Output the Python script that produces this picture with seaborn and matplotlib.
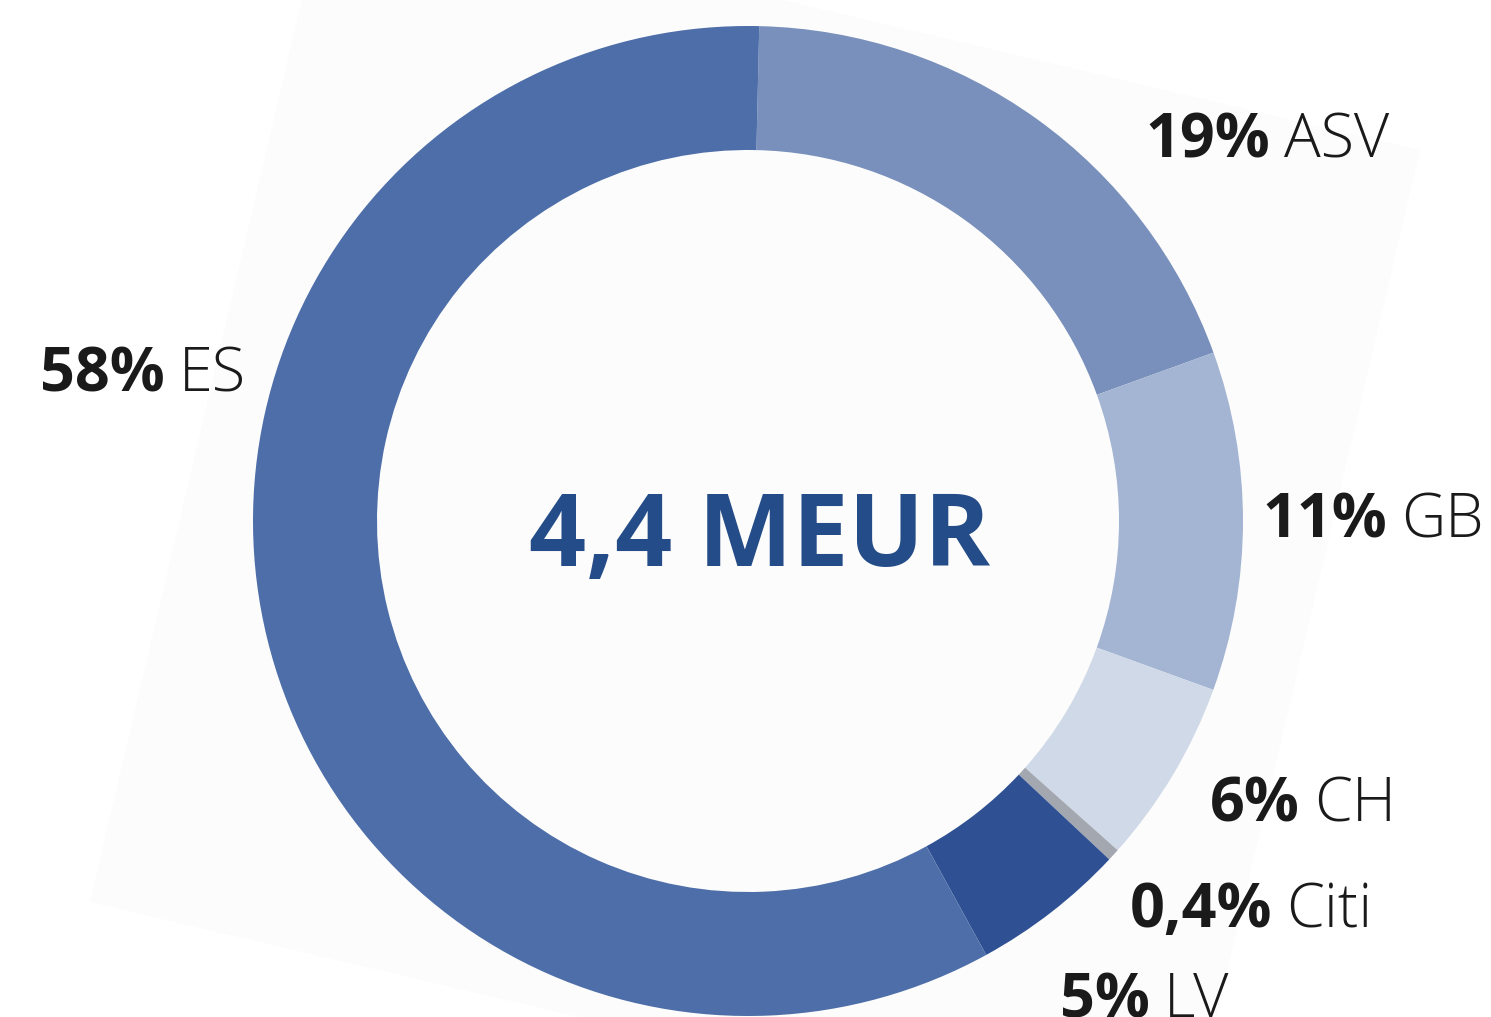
import matplotlib
matplotlib.use('Agg')
import matplotlib.pyplot as plt
from matplotlib.patches import Polygon
import seaborn as sns

W, H = 1491, 1017

# data
labels = ['ASV', 'GB', 'CH', 'Citi', 'LV', 'ES']
shares = [19, 11, 6, 0.4, 5, 58]
share_text = ['19%', '11%', '6%', '0,4%', '5%', '58%']
colors = ['#7890bb', '#a4b5d3', '#d0d9e8', '#a3a7b0', '#2f5193', '#4d6ea8']
total_text = '4,4 MEUR'

# label anchors (left x, baseline y), pixels from the top-left corner
label_pos = [(1145, 158), (1262, 537), (1210, 822), (1130, 927), (1060, 1017), (40, 392)]

sns.set_theme(style='white')
plt.rcParams['font.family'] = ['Open Sans', 'DejaVu Sans']


def py(y):
    # pixel row -> data y (axes runs bottom-up)
    return H - y


fig = plt.figure(figsize=(W / 100, H / 100), dpi=100)
fig.patch.set_facecolor('white')
ax = fig.add_axes([0, 0, 1, 1])

# faint tilted paper behind the chart (scan look)
paper = [(327, -107), (1420, 150), (1183, 1159), (90, 902)]
ax.add_patch(Polygon([(x, py(y)) for x, y in paper], closed=True,
                     facecolor='#fcfcfc', edgecolor='none', zorder=0))

ax.pie(shares, colors=colors, startangle=88.7, counterclock=False,
       radius=495, center=(748, py(521)), frame=True,
       wedgeprops=dict(width=124, linewidth=0))

ax.set_xlim(0, W)
ax.set_ylim(0, H)
ax.axis('off')

# center total
ax.text(760, py(566), total_text, ha='center', va='baseline',
        fontsize=72, fontweight='bold', color='#244c88', zorder=5)

# labels: bold share + light name
renderer = fig.canvas.get_renderer()
for (x, y), pct, name in zip(label_pos, share_text, labels):
    t = ax.text(x, py(y), pct, ha='left', va='baseline', fontsize=44,
                fontweight='bold', color='#1a1a1a', zorder=5)
    bb = t.get_window_extent(renderer=renderer)
    ax.text(bb.x1 + 14, py(y), name, ha='left', va='baseline', fontsize=44,
            fontweight='light', color='#1a1a1a', zorder=5)

plt.savefig('out.png', dpi=100, facecolor='white')
